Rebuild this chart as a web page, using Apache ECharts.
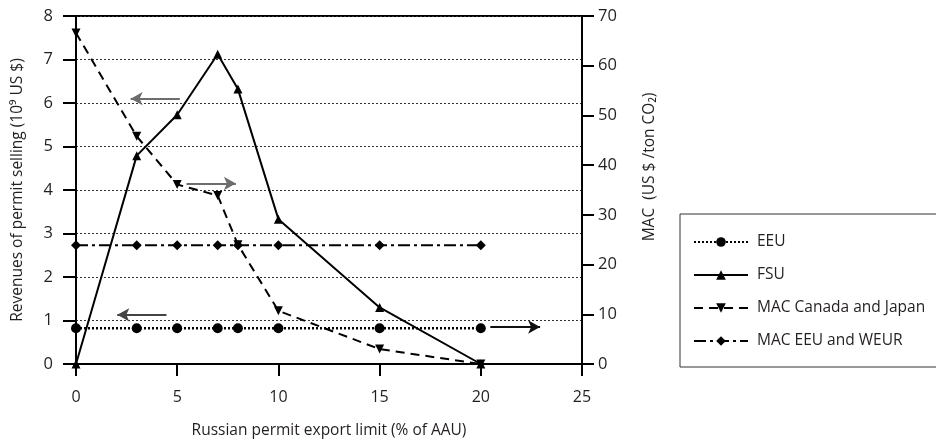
<!DOCTYPE html>
<html>
<head>
<meta charset="utf-8">
<script src="https://cdn.jsdelivr.net/npm/echarts@6/dist/echarts.min.js"></script>
<style>html,body{margin:0;padding:0;background:#fff}#c{width:936px;height:445px}</style>
</head>
<body>
<div id="c"></div>
<script>
// ---- data ----
const xValues = [0, 3, 5, 7, 8, 10, 15, 20];
const eeuRevenue = [0.82, 0.82, 0.82, 0.82, 0.82, 0.82, 0.82, 0.82];          // left axis (10^9 US $)
const fsuRevenue = [0, 4.79, 5.73, 7.12, 6.32, 3.33, 1.30, 0];                 // left axis
const macCanadaJapan = [66.6, 45.8, 36.1, 33.9, 24.0, 10.7, 3.0, 0];           // right axis (US $/ton CO2)
const macEeuWeur = [23.9, 23.9, 23.9, 23.9, 23.9, 23.9, 23.9, 23.9];           // right axis
const leftTicks = [0, 8, 1];
const rightTicks = [0, 70, 10];
const xTicks = [0, 25, 5];
// annotation arrows (left-axis data units): [x0, y0, x1, y1]
const arrows = [
  [5.13, 6.1, 2.7, 6.1],
  [5.46, 4.15, 7.9, 4.15],
  [4.47, 1.13, 2.04, 1.13],
  [20.47, 0.85, 22.93, 0.85]
];
const arrowColors = ['#6d6d6d', '#6d6d6d', '#444', '#111'];

const pair = (xs, ys) => xs.map((x, i) => [x, ys[i]]);
const FONT = 'Open Sans';
const TXT = '#231f20';

const chart = echarts.init(document.getElementById('c'), null, {renderer: 'canvas'});
chart.setOption({
  animation: false,
  backgroundColor: '#fff',
  textStyle: {fontFamily: FONT, color: TXT},
  grid: {left: 76, right: 354, top: 16, bottom: 81, show: true, borderColor: '#000', borderWidth: 2, backgroundColor: 'transparent'},
  legend: {
    orient: 'vertical', left: 680, top: 214,
    padding: [20, 60, 18, 13],
    itemWidth: 54, itemHeight: 12, itemGap: 17,
    borderColor: '#333', borderWidth: 1,
    textStyle: {fontFamily: FONT, fontSize: 15.5, color: TXT, padding: [0, 0, 0, 4]},
    data: ['EEU', 'FSU', 'MAC Canada and Japan', 'MAC EEU and WEUR']
  },
  xAxis: {
    type: 'value', min: xTicks[0], max: xTicks[1], interval: xTicks[2],
    name: 'Russian permit export limit (% of AAU)', nameLocation: 'middle', nameGap: 59,
    nameTextStyle: {fontFamily: FONT, fontSize: 15.5, color: TXT},
    axisLine: {lineStyle: {color: '#000', width: 2}},
    axisTick: {show: true, length: 12, lineStyle: {color: '#000', width: 2}},
    axisLabel: {margin: 25, fontFamily: FONT, fontSize: 16, color: TXT},
    splitLine: {show: false}
  },
  yAxis: [{
    type: 'value', min: leftTicks[0], max: leftTicks[1], interval: leftTicks[2], position: 'left',
    name: 'Revenues of permit selling (10⁹ US $)', nameLocation: 'middle', nameGap: 50,
    nameTextStyle: {fontFamily: FONT, fontSize: 15.5, color: TXT},
    axisLine: {show: true, lineStyle: {color: '#000', width: 2}},
    axisTick: {show: true, length: 13, lineStyle: {color: '#000', width: 2}},
    axisLabel: {margin: 23, fontFamily: FONT, fontSize: 16.5, color: TXT},
    splitLine: {show: true, lineStyle: {color: '#333', width: 1, type: [2, 2]}}
  }, {
    type: 'value', min: rightTicks[0], max: rightTicks[1], interval: rightTicks[2], position: 'right',
    name: 'MAC  (US $ /ton CO₂)', nameLocation: 'middle', nameGap: 60,
    nameTextStyle: {fontFamily: FONT, fontSize: 15.5, color: TXT, padding: [0, 0, 0, 46]},
    axisLine: {show: true, lineStyle: {color: '#000', width: 2}},
    axisTick: {show: true, length: 12, lineStyle: {color: '#000', width: 2}},
    axisLabel: {margin: 16, fontFamily: FONT, fontSize: 16.5, color: TXT},
    splitLine: {show: false}
  }],
  series: [{
    name: 'EEU', type: 'line', yAxisIndex: 0, data: pair(xValues, eeuRevenue),
    symbol: 'circle', symbolSize: 10, color: '#000',
    lineStyle: {color: '#000', width: 2.5, type: [2, 2]},
    itemStyle: {color: '#000'}
  }, {
    name: 'FSU', type: 'line', yAxisIndex: 0, data: pair(xValues, fsuRevenue),
    symbol: 'triangle', symbolSize: 9, color: '#000',
    lineStyle: {color: '#000', width: 2},
    itemStyle: {color: '#000'},
    markLine: {
      silent: true, symbol: ['none', 'arrow'], symbolSize: [10, 12],
      label: {show: false},
      data: arrows.map((a, i) => [
        {coord: [a[0], a[1]], lineStyle: {color: arrowColors[i], width: 2, type: 'solid'}},
        {coord: [a[2], a[3]]}
      ])
    }
  }, {
    name: 'MAC Canada and Japan', type: 'line', yAxisIndex: 1, data: pair(xValues, macCanadaJapan),
    symbol: 'triangle', symbolRotate: 180, symbolSize: 9, color: '#000',
    lineStyle: {color: '#000', width: 2, type: [9, 6]},
    itemStyle: {color: '#000'}
  }, {
    name: 'MAC EEU and WEUR', type: 'line', yAxisIndex: 1, data: pair(xValues, macEeuWeur),
    symbol: 'diamond', symbolSize: 10, color: '#000',
    lineStyle: {color: '#000', width: 2, type: [12, 4, 3, 4]},
    itemStyle: {color: '#000'}
  }]
});
</script>
</body>
</html>
